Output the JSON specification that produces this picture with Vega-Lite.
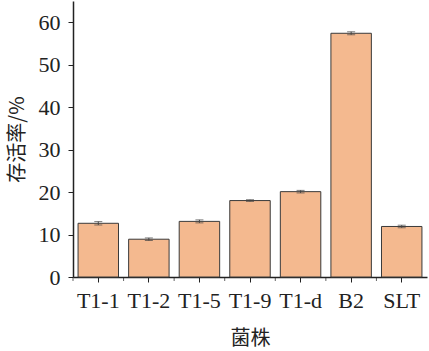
{
  "$schema": "https://vega.github.io/schema/vega-lite/v6.json",
  "autosize": {"type": "none"},
  "width": 354,
  "height": 276,
  "padding": {"left": 73, "top": 1, "right": 2, "bottom": 74},
  "background": "white",
  "config": {
    "view": {"stroke": null},
    "axis": {"labelFont": "Liberation Serif", "titleFont": "Noto Sans CJK SC", "labelColor": "#222", "titleColor": "#222", "domainColor": "#222", "tickColor": "#222", "grid": false, "titleFontWeight": "normal"}
  },
  "data": {
    "values": [
      {"strain": "T1-1", "rate": 12.65, "err": 0.4},
      {"strain": "T1-2", "rate": 8.9, "err": 0.3},
      {"strain": "T1-5", "rate": 13.1, "err": 0.35},
      {"strain": "T1-9", "rate": 18.0, "err": 0.2},
      {"strain": "T1-d", "rate": 20.1, "err": 0.3},
      {"strain": "B2", "rate": 57.4, "err": 0.35},
      {"strain": "SLT", "rate": 11.9, "err": 0.3}
    ]
  },
  "layer": [
    {
      "mark": {"type": "bar", "color": "#F4B98F", "stroke": "#3a3a3a", "strokeWidth": 1},
      "encoding": {
        "x": {
          "field": "strain", "type": "nominal", "sort": null,
          "scale": {"paddingInner": 0.2, "paddingOuter": 0.1},
          "axis": {"title": "菌株", "labelAngle": 0, "labelFontSize": 22, "titleFontSize": 20, "tickSize": 5, "labelPadding": 8, "titlePadding": 17, "domainWidth": 1.5}
        },
        "y": {
          "field": "rate", "type": "quantitative", "title": "存活率/%",
          "scale": {"domain": [0, 65], "nice": false},
          "axis": {
            "title": "存活率/%", "titleFontSize": 20, "labelFontSize": 22, "titlePadding": 11,
            "values": [0, 5, 10, 15, 20, 25, 30, 35, 40, 45, 50, 55, 60],
            "labelExpr": "datum.value % 10 === 0 ? datum.label : ''",
            "tickSize": {"condition": {"test": "datum.value % 10 === 0", "value": 5}, "value": 3},
            "labelPadding": 8, "domainWidth": 1.5
          }
        }
      }
    },
    {
      "mark": {"type": "errorbar", "ticks": {"size": 8, "color": "#444"}, "rule": {"color": "#444"}},
      "encoding": {
        "x": {"field": "strain", "type": "nominal", "sort": null, "title": "菌株"},
        "y": {"field": "rate", "type": "quantitative", "title": "存活率/%"},
        "yError": {"field": "err"}
      }
    },
    {
      "mark": {"type": "tick", "orient": "vertical", "size": 4, "thickness": 1, "color": "#222", "yOffset": 2, "clip": false},
      "encoding": {
        "x": {"field": "strain", "type": "nominal", "sort": null, "bandPosition": -0.125, "title": "菌株"},
        "y": {"datum": 0, "type": "quantitative", "title": "存活率/%"}
      }
    }
  ]
}
